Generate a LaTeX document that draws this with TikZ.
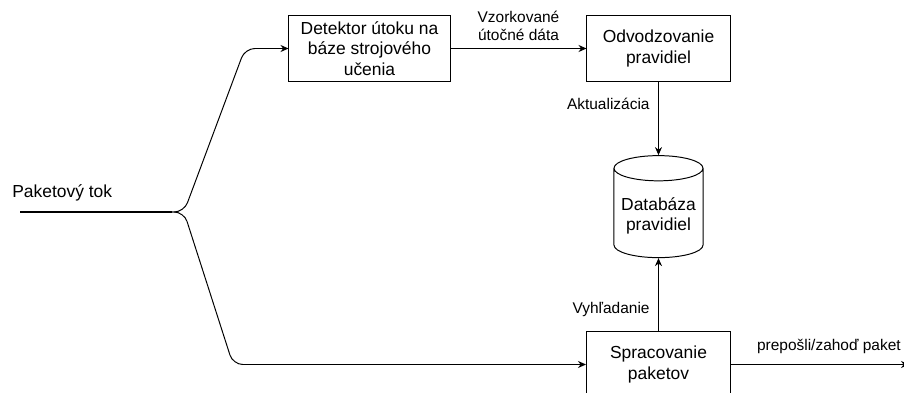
\documentclass[tikz,border=0pt]{standalone}
\usepackage{fontspec}
\setmainfont{Liberation Sans}
\usetikzlibrary{positioning, arrows.meta, shapes.geometric}

\begin{document}
\begin{tikzpicture}[x=0.025cm, y=-0.025cm,
  every node/.style={font=\fontsize{12.4}{14.7}\selectfont},
  box/.style={draw, line width=0.7pt, align=center, minimum height=1.625cm},
  db/.style={draw, line width=0.7pt, cylinder, shape border rotate=90, aspect=0.3,
    minimum width=2.225cm, minimum height=2.55cm, align=center},
  flow/.style={-{Stealth[length=5.7pt, width=5pt]}, line width=0.7pt},
  lbl/.style={font=\fontsize{11}{13}\selectfont, align=center, inner sep=2pt}]
\useasboundingbox (0,0) rectangle (904,393);
\node[box, minimum width=4.025cm] (det) at (369.5,48.5) {Detektor útoku na\\báze strojového\\učenia};
\node[box, minimum width=3.575cm] (odv) at (658.5,48.5) {Odvodzovanie\\pravidiel};
\node[db] (dbase) at (658.5,216) {Databáza\\pravidiel};
\node[box, minimum width=3.6cm] (spr) at (658.5,364.5) {Spracovanie\\paketov};
\node[anchor=west, inner sep=0pt] (tok) at (12,193) {Paketový tok};
\coordinate (in) at (20,212);
\coordinate (split) at (172,212);
\coordinate (out) at (909,364.5);
% packet stream and its two branches
\draw[line width=1.4pt] (in) -- (split);
\draw[flow, rounded corners=7pt] (split) -- (184,212) -- (245,48.5) -- (det.west);
\draw[flow, rounded corners=7pt] (split) -- (184,212) -- (233,364.5) -- (spr.west);
\draw[flow] (det) -- node[lbl, above=3pt] {Vzorkované\\útočné dáta} (odv);
\draw[flow] (odv) -- node[lbl, left=4pt, pos=0.3] {Aktualizácia} (dbase);
\draw[flow] (spr) -- node[lbl, left=4pt, pos=0.3] {Vyhľadanie} (dbase);
\draw[flow] (spr) -- node[lbl, above=5.5pt, pos=0.55] {prepošli/zahoď paket} (out);
\end{tikzpicture}
\end{document}
